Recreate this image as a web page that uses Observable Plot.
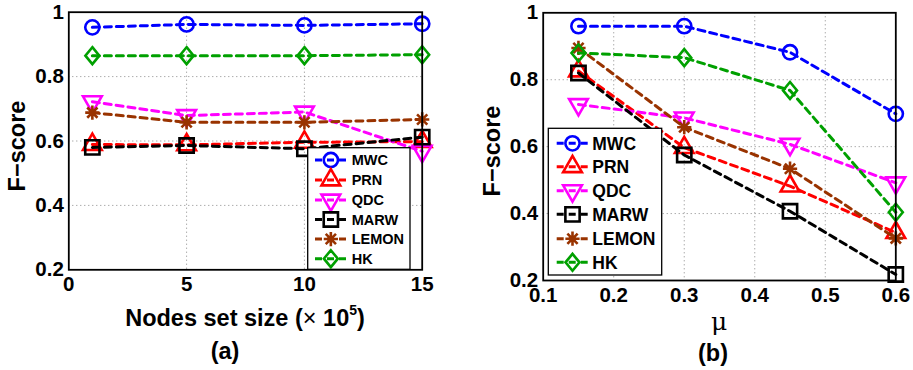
<!DOCTYPE html>
<html><head><meta charset="utf-8">
<script src="https://cdn.jsdelivr.net/npm/d3@7"></script>
<script src="https://cdn.jsdelivr.net/npm/@observablehq/plot@0.6"></script>
<style>
html,body{margin:0;padding:0;background:#fff;}
#wrap{position:relative;width:913px;height:370px;overflow:hidden;font-family:"Liberation Sans",Arial,sans-serif;}
.abs{position:absolute;}
.lbl{position:absolute;transform:translate(-50%,-50%);white-space:nowrap;font-weight:bold;color:#000;}
</style>
</head><body>
<div id="wrap"></div>
<script>
// ---------- data ----------
const seriesNames = ["MWC", "PRN", "QDC", "MARW", "LEMON", "HK"];
const seriesColors = ["#0000ff", "#ff0000", "#ff00ff", "#000000", "#993300", "#00a000"];
const seriesSymbols = ["circle", "triangleUp", "triangleDown", "square", "asterisk", "diamond"];

// panel (a): nodes set size (x 10^5)
const xA = [1, 5, 10, 15];
const aMWC   = [0.953, 0.962, 0.959, 0.964];
const aPRN   = [0.589, 0.588, 0.596, 0.598];
const aQDC   = [0.722, 0.679, 0.690, 0.568];
const aMARW  = [0.580, 0.586, 0.576, 0.612];
const aLEMON = [0.688, 0.658, 0.658, 0.667];
const aHK    = [0.865, 0.865, 0.865, 0.868];

// panel (b): mu
const xB = [0.15, 0.3, 0.45, 0.6];
const bMWC   = [0.960, 0.960, 0.882, 0.698];
const bPRN   = [0.826, 0.597, 0.482, 0.343];
const bQDC   = [0.726, 0.686, 0.607, 0.492];
const bMARW  = [0.820, 0.575, 0.407, 0.218];
const bLEMON = [0.895, 0.658, 0.534, 0.326];
const bHK    = [0.880, 0.866, 0.768, 0.404];

const xTicksA = [0, 5, 10, 15];
const xTicksB = [0.1, 0.2, 0.3, 0.4, 0.5, 0.6];
const yTicks = [0.2, 0.4, 0.6, 0.8, 1];

// ---------- symbols (MATLAB-like markers) ----------
const R = 7.5;
const symbolDefs = {
  circle: {draw(c, s){const r=Math.sqrt(s/Math.PI)*0.95; c.moveTo(r,0); c.arc(0,0,r,0,2*Math.PI); c.closePath();}},
  triangleUp: {draw(c, s){const r=Math.sqrt(s/Math.PI); c.moveTo(0,-1.45*r); c.lineTo(1.25*r,0.72*r); c.lineTo(-1.25*r,0.72*r); c.closePath();}},
  triangleDown: {draw(c, s){const r=Math.sqrt(s/Math.PI); c.moveTo(0,1.45*r); c.lineTo(1.25*r,-0.72*r); c.lineTo(-1.25*r,-0.72*r); c.closePath();}},
  square: {draw(c, s){const r=Math.sqrt(s/Math.PI)*0.95; c.moveTo(-r,-r); c.lineTo(r,-r); c.lineTo(r,r); c.lineTo(-r,r); c.closePath();}},
  diamond: {draw(c, s){const r=Math.sqrt(s/Math.PI); c.moveTo(0,-1.13*r); c.lineTo(0.93*r,0); c.lineTo(0,1.13*r); c.lineTo(-0.93*r,0); c.closePath();}},
  asterisk: {draw(c, s){const r=Math.sqrt(s/Math.PI)*0.95; const d=r*0.72;
    c.moveTo(-r,0); c.lineTo(r,0); c.moveTo(0,-r); c.lineTo(0,r);
    c.moveTo(-d,-d); c.lineTo(d,d); c.moveTo(-d,d); c.lineTo(d,-d);}}
};

function rows(xs, arrs){
  const out = [];
  arrs.forEach((arr, i) => arr.forEach((v, j) => out.push({series: seriesNames[i], x: xs[j], y: v})));
  return out;
}
const dataA = rows(xA, [aMWC, aPRN, aQDC, aMARW, aLEMON, aHK]);
const dataB = rows(xB, [bMWC, bPRN, bQDC, bMARW, bLEMON, bHK]);

function seriesMarks(data){
  const marks = [];
  seriesNames.forEach((name, i) => {
    const d = data.filter(r => r.series === name);
    marks.push(Plot.line(d, {x: "x", y: "y", stroke: seriesColors[i], strokeWidth: 3, strokeDasharray: "7,5"}));
    marks.push(Plot.dot(d, {x: "x", y: "y", r: R, symbol: symbolDefs[seriesSymbols[i]], stroke: seriesColors[i], fill: "none", strokeWidth: 2.6}));
  });
  return marks;
}

function panel(opts){
  return Plot.plot({
    width: opts.width, height: 370,
    marginLeft: opts.ml, marginRight: opts.mr, marginTop: opts.mt, marginBottom: opts.mb,
    x: {domain: opts.xdomain},
    y: {domain: [0.2, 1]},
    style: {fontFamily: "'Liberation Sans', Arial, sans-serif", fontWeight: "bold", fontSize: "20px", background: "transparent", color: "#000", overflow: "visible"},
    marks: [
      Plot.gridX(opts.xgrid, {stroke: "#888", strokeOpacity: 1, strokeWidth: 1, strokeDasharray: "1,3"}),
      Plot.gridY([0.4, 0.6, 0.8], {stroke: "#888", strokeOpacity: 1, strokeWidth: 1, strokeDasharray: "1,3"}),
      Plot.axisX(opts.xticks, {tickSize: 0, tickPadding: opts.xpad, label: null, tickFormat: d => String(d), fontSize: 20.5, fontWeight: "bold"}),
      Plot.axisY(yTicks, {tickSize: 0, tickPadding: 5, label: null, tickFormat: d => String(d), fontSize: 20.5, fontWeight: "bold"}),
      ...seriesMarks(opts.data),
      Plot.frame({stroke: "#000", strokeWidth: 1.8})
    ]
  });
}

const wrap = document.getElementById("wrap");

const pA = panel({width: 450, ml: 68.3, mr: 28.3, mt: 11.7, mb: 100.7, xdomain: [0, 15], xgrid: [5, 10], xticks: xTicksA, xpad: 7, data: dataA});
pA.classList.add("abs"); pA.style.left = "0px"; pA.style.top = "0px";
wrap.appendChild(pA);

const pB = panel({width: 453, ml: 82.7, mr: 17.7, mt: 12.3, mb: 90, xdomain: [0.1, 0.6], xgrid: [0.2, 0.3, 0.4, 0.5], xticks: xTicksB, xpad: 7, data: dataB});
pB.classList.add("abs"); pB.style.left = "460px"; pB.style.top = "0px";
wrap.appendChild(pB);

// ---------- legends ----------
function legend(o){
  const svg = d3.create("svg").attr("width", 913).attr("height", 370)
    .style("position", "absolute").style("left", "0px").style("top", "0px").style("overflow", "visible");
  svg.append("rect").attr("x", o.x0).attr("y", o.y0).attr("width", o.x1 - o.x0).attr("height", o.y1 - o.y0)
    .attr("fill", "#fff").attr("stroke", "#000").attr("stroke-width", 1.3);
  seriesNames.forEach((name, i) => {
    const y = o.rows[i];
    svg.append("line").attr("x1", o.l0).attr("x2", o.l1).attr("y1", y).attr("y2", y)
      .attr("stroke", seriesColors[i]).attr("stroke-width", 3).attr("stroke-dasharray", "7,5").attr("stroke-dashoffset", 0);
    const p = d3.path();
    symbolDefs[seriesSymbols[i]].draw(p, Math.PI * R * R);
    svg.append("path").attr("d", p.toString()).attr("transform", `translate(${(o.l0 + o.l1) / 2},${y})`)
      .attr("fill", "none").attr("stroke", seriesColors[i]).attr("stroke-width", 2.6);
    svg.append("text").attr("x", o.tx).attr("y", y).attr("dy", "0.36em")
      .attr("font-family", "'Liberation Sans', Arial, sans-serif").attr("font-weight", "bold")
      .attr("font-size", o.fs).text(name);
  });
  wrap.appendChild(svg.node());
}
legend({x0: 307.7, x1: 410, y0: 147.7, y1: 269.3, l0: 315, l1: 346.7, tx: 351.7, fs: 14.5,
        rows: [160, 180, 200, 219.5, 239, 258.7]});
legend({x0: 548.3, x1: 661.7, y0: 128.3, y1: 275, l0: 556.7, l1: 588.3, tx: 592.3, fs: 17.5,
        rows: [143.3, 166.7, 190.7, 214.3, 238.7, 262.3]});

// ---------- titles ----------
function label(html, x, y, extra){
  const d = document.createElement("div");
  d.className = "lbl";
  d.innerHTML = html;
  d.style.left = x + "px"; d.style.top = y + "px";
  Object.assign(d.style, extra || {});
  wrap.appendChild(d);
}
label("F\u2212score", 16.7, 146, {fontSize: "23.5px", transform: "translate(-50%,-50%) rotate(-90deg)"});
label("F\u2212score", 491.7, 151, {fontSize: "23.5px", transform: "translate(-50%,-50%) rotate(-90deg)"});
label("Nodes set size (<span style=\"font-weight:normal\">\u00d7</span> 10<sup style=\"font-size:14px;vertical-align:0;position:relative;top:-11px\">5</sup>)", 245, 318, {fontSize: "23.5px"});
label("(a)", 225, 351, {fontSize: "23.5px"});
label("\u03bc", 719, 321, {fontSize: "25px", fontWeight: "normal", fontFamily: "'DejaVu Serif', serif"});
label("(b)", 713, 353, {fontSize: "23.5px"});
</script>
</body></html>
